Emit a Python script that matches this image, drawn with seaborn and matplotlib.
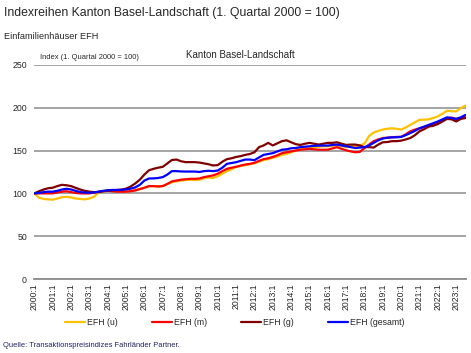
import numpy as np
import pandas as pd
import seaborn as sns
import matplotlib
matplotlib.use('Agg')
import matplotlib.pyplot as plt

# quarterly index values, 2000:1 .. 2023:3 (1. Quartal 2000 = 100)
efh_u = [100, 95, 93.5, 93, 92.6, 94, 95.5, 96, 95.3, 94, 93.5, 93,
         94, 96, 101, 102.5, 103, 103.5, 103, 102.5, 102, 103, 103.5, 105,
         106.5, 108.5, 108.5, 108.5, 108.5, 111, 113, 114, 115, 115.5, 116, 115.5,
         116, 117.5, 118.5, 118, 120, 123, 126, 128, 131, 132, 133, 134,
         135, 137, 139, 140, 141.5, 143, 145, 146, 148, 150, 152, 152.5,
         154, 154, 154.5, 155, 155, 155.5, 156, 155.5, 154, 154.5, 155, 156,
         158, 167, 171, 173, 174.5, 175.5, 176, 175.5, 174.5, 177, 180, 183,
         186, 186, 186.5, 188, 190, 193, 196.5, 196, 195.7, 199.5, 202.5]
efh_m = [100, 100, 100, 100, 100, 101, 102, 102.5, 101.5, 100.5, 100, 100,
         100, 101, 102, 102.5, 103, 102.5, 102, 102, 102, 102.5, 103.5, 105,
         106.6, 108.5, 108.5, 108, 108.5, 111, 114, 115, 116, 116.5, 117, 117,
         117.4, 119, 120, 121, 123, 126, 128.7, 130, 131, 132.5, 133.7, 134.5,
         135.7, 138, 140, 141, 142.6, 144.5, 147, 148, 149, 150, 151, 151.5,
         152, 151.5, 151, 151, 151, 152.5, 154, 152, 150.4, 149, 148, 148.5,
         153, 157, 161, 163, 164.7, 165, 165.5, 166, 166, 169, 172.5, 174.5,
         176, 177.5, 179.5, 180.5, 182, 185, 188, 188.5, 187, 188, 190.7]
efh_g = [100, 102.5, 104.5, 106, 106.6, 108.5, 110, 109.5, 108.5, 106.5, 104.5, 103,
         102, 101.5, 101.5, 102.5, 103.5, 103.5, 104, 104.5, 105.5, 108, 111.6, 116,
         122, 127, 128.7, 130, 131, 135, 139, 139.5, 137.5, 136.5, 136.5, 136.5,
         136, 135, 134, 132.6, 133, 137, 140, 141, 142.6, 143.5, 145, 146,
         148, 154, 156, 159, 156, 158.5, 161, 162, 159.7, 157.5, 156.6, 158,
         159, 158, 157, 158, 159, 159, 159.7, 158, 156.6, 157, 157, 156,
         154, 154, 153.5, 157, 159.7, 160, 161, 161, 161.6, 163, 164.7, 168,
         172.5, 175, 178, 179, 181, 184, 187, 186.5, 184, 187, 188]
efh_gesamt = [100, 100.5, 101.5, 102, 102, 103, 104.5, 105.4, 104.6, 103, 101.5, 101,
              100.8, 101, 102, 103, 103.5, 104, 104, 104, 104.6, 105.5, 107, 110,
              115, 117.4, 117.5, 118, 119, 122, 126, 126, 125.6, 125.5, 125.5, 125.5,
              125, 126, 126.4, 126, 126.7, 130, 134.5, 135.5, 136.4, 138, 139.5, 139.5,
              138.8, 142, 145, 146, 147, 149, 151, 151.5, 152.7, 153, 154, 154.5,
              155, 155.5, 155.8, 155.8, 155.8, 156.5, 157, 156, 155, 154, 153, 153.5,
              154, 156, 159, 162, 164, 165, 165.5, 165.5, 166, 168, 170.5, 173,
              176, 178, 180, 182, 184, 186.5, 188.8, 188, 187, 188.8, 191.5]

quarters = [f'{y}:{q}' for y in range(2000, 2024) for q in range(1, 5)][:len(efh_u)]
series_names = ['EFH (u)', 'EFH (m)', 'EFH (g)', 'EFH (gesamt)']
colors = ['#FFC000', '#FF0000', '#800000', '#0000FF']

df = pd.DataFrame({'idx': np.arange(len(quarters)), 'quartal': quarters,
                   'EFH (u)': efh_u, 'EFH (m)': efh_m,
                   'EFH (g)': efh_g, 'EFH (gesamt)': efh_gesamt})
long = df.melt(id_vars=['idx', 'quartal'], var_name='serie', value_name='index')

sns.set_style('white')
plt.rcParams['font.family'] = ['Liberation Sans', 'DejaVu Sans']

fig = plt.figure(figsize=(4.71, 3.53), dpi=100)
ax = fig.add_axes([0.072, 0.2096, 0.918, 0.6064])

sns.lineplot(data=long, x='idx', y='index', hue='serie', hue_order=series_names,
             palette=colors, linewidth=1.6, ax=ax, legend=False)

ax.set_xlim(-0.1, len(quarters) - 0.8)
ax.set_ylim(0, 250)
ax.set_yticks([0, 50, 100, 150, 200, 250])
ax.set_xticks(range(0, len(quarters), 4))
ax.set_xticklabels(quarters[::4], rotation=90, fontsize=6.2)
ax.tick_params(axis='y', labelsize=6.3, length=0, pad=5)
ax.tick_params(axis='x', length=0, pad=3)
ax.yaxis.grid(True, color='#8c8c8c', linewidth=1.1)
ax.set_axisbelow(True)
for s in ['left', 'right', 'top']:
    ax.spines[s].set_visible(False)
ax.spines['bottom'].set_color('#8c8c8c')
ax.spines['bottom'].set_linewidth(1.3)
ax.set_xlabel('')
ax.set_ylabel('')

fig.text(0.008, 0.963, 'Indexreihen Kanton Basel-Landschaft (1. Quartal 2000 = 100)',
         fontsize=8.8, va='center', ha='left')
fig.text(0.008, 0.897, 'Einfamilienhäuser EFH', fontsize=6.6, va='center', ha='left')
fig.text(0.085, 0.838, 'Index (1. Quartal 2000 = 100)', fontsize=5.4, va='center', ha='left')
fig.text(0.51, 0.843, 'Kanton Basel-Landschaft', fontsize=7, va='center', ha='center')

handles = [plt.Line2D([], [], color=c, linewidth=1.6) for c in colors]
fig.legend(handles, series_names, loc='center left', bbox_to_anchor=(65 / 471, 0.085),
           ncol=4, frameon=False, fontsize=6.3, handlelength=2.3, handletextpad=0.2,
           columnspacing=3.9, borderpad=0, borderaxespad=0)

fig.text(0.006, 0.02, 'Quelle: Transaktionspreisindizes Fahrländer Partner.',
         fontsize=5.4, color='#1f1f5f', va='center', ha='left')

fig.savefig('out.png', dpi=100)
